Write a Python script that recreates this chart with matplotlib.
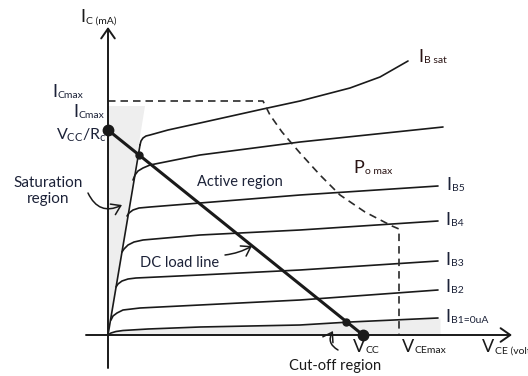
import matplotlib.pyplot as plt
from matplotlib.patches import Polygon

plt.rcParams['font.family'] = ['Lato', 'DejaVu Sans']

# collector curves (V_CE on x, I_C on y, arbitrary units)
ib_sat_v = [32, 33, 35, 38, 42, 60, 92, 155, 192, 242, 272, 300]
ib_sat_i = [190, 194, 197, 199, 200, 205, 212, 226, 234, 247, 258, 274]
ib6_v = [25, 27, 30, 35, 42, 92, 192, 335]
ib6_i = [155, 160, 164, 167, 170, 180, 193, 208]
ib5_v = [19, 21, 25, 31, 42, 92, 192, 330]
ib5_i = [119, 122, 125, 127, 128, 132, 140, 149]
ib4_v = [14, 16, 20, 26, 35, 92, 192, 330]
ib4_i = [83, 86, 90, 93, 95, 100, 105, 114]
ib3_v = [8, 10, 14, 20, 28, 92, 192, 330]
ib3_i = [48, 51, 54, 56, 57, 60, 65, 74]
ib2_v = [3, 5, 9, 15, 32, 92, 192, 330]
ib2_i = [15, 19, 22, 25, 27, 30, 35, 45]
ib1_v = [0, 3, 8, 15, 40, 92, 192, 242, 330]
ib1_i = [0, 2, 3.5, 4.5, 6, 8, 10, 13, 17]
curves = [(ib_sat_v, ib_sat_i), (ib6_v, ib6_i), (ib5_v, ib5_i), (ib4_v, ib4_i),
          (ib3_v, ib3_i), (ib2_v, ib2_i), (ib1_v, ib1_i)]

sat_v = [0, 32]
sat_i = [0, 190]
sat_zone_v = [0, 37, 0]
sat_zone_i = [0, 229, 229]
cut_zone_v = [0, 3, 8, 15, 40, 92, 192, 242, 332]
cut_zone_i = [0, 2, 3.5, 4.5, 6, 8, 10, 13, 17]

# DC load line and operating points
vcc = 255
vcc_rc = 205
q_v = [31, 238]
q_i = [180, 13]

# max power / max limits (dashed)
pmax_v = [0, 155, 162, 174, 192, 212, 232, 257, 284, 291, 291]
pmax_i = [234, 234, 220, 203, 182, 160, 140, 123, 109, 106, 0]

ink = '#1a1a1a'
lab = '#1c2238'

fig = plt.figure(figsize=(5.28, 3.76), dpi=100)
ax = fig.add_axes([0, 0, 1, 1])
ax.set_xlim(-108, 420)
ax.set_ylim(-41, 335)
ax.axis('off')

ax.add_patch(Polygon(list(zip(sat_zone_v, sat_zone_i)), closed=True,
                     facecolor='#eeeeee', edgecolor='none', zorder=0))
ax.fill_between(cut_zone_v, 0, cut_zone_i, color='#eeeeee', lw=0, zorder=0)

# axes with open arrow heads
arrow = dict(arrowstyle='->,head_length=0.5,head_width=0.35', lw=1.4,
             color=ink, mutation_scale=14, shrinkA=0, shrinkB=0)
ax.annotate('', xy=(0, 308), xytext=(0, -33), arrowprops=arrow)
ax.annotate('', xy=(404, 0), xytext=(-22, 0), arrowprops=arrow)

for v, i in curves:
    ax.plot(v, i, color=ink, lw=1.2, solid_capstyle='round')
ax.plot(sat_v, sat_i, color=ink, lw=1.2)

ax.plot(pmax_v, pmax_i, color='#2a2a2a', lw=1.2, dashes=(4.5, 3))

ax.plot([0, vcc], [vcc_rc, 0], color=ink, lw=2.2)
ax.plot([0, vcc], [vcc_rc, 0], 'o', color=ink, ms=7.5)
ax.plot(q_v, q_i, 'o', color=ink, ms=5)


def label(x, y, main, sub, size=13, sub_size=7.5, color=lab):
    t = ax.text(x, y, main, fontsize=size, color=color, ha='left', va='baseline')
    if sub:
        ax.annotate(sub, xy=(1, 0), xycoords=t, xytext=(0.6, 1.2),
                    textcoords='offset points', fontsize=sub_size,
                    color=color, ha='left', va='baseline')
    return t


label(-28, 313, 'I', 'C (mA)', color=ink)
label(-56, 238, 'I', 'Cmax')
label(-35, 218, 'I', 'Cmax')
ax.text(-52, 195, r'$\mathregular{V_{CC}/R_c}$', fontsize=11.5, color=lab,
        ha='left', va='baseline')
label(310, 273, 'I', 'B sat', color='#2a1414')
label(245, 162, 'P', 'o max', color='#2a1414')
label(338, 145, 'I', 'B5')
label(337, 110, 'I', 'B4')
label(337, 70, 'I', 'B3')
label(337, 43, 'I', 'B2')
label(337, 13, 'I', 'B1=0uA')
label(245, -17, 'V', 'CC', color=ink)
label(294, -17, 'V', 'CEmax', color=ink)
label(374, -17, 'V', 'CE (volts)', color=ink)

ax.text(-60, 144, 'Saturation\nregion', fontsize=11, color=lab,
        ha='center', va='center', linespacing=1.25)
ax.text(89, 153, 'Active region', fontsize=10.5, color=lab, va='center')
ax.text(32, 72, 'DC load line', fontsize=10.5, color=lab, va='center')
ax.text(273, -31, 'Cut-off region', fontsize=10.5, color=ink, ha='right',
        va='center')

small = dict(arrowstyle='->,head_length=0.45,head_width=0.3', lw=1.1,
             color=ink, mutation_scale=14, shrinkA=0, shrinkB=0)
ax.annotate('', xy=(14, 130), xytext=(-20, 142),
            arrowprops=dict(small, connectionstyle='arc3,rad=0.5'))
ax.annotate('', xy=(144, 89), xytext=(117, 80),
            arrowprops=dict(small, connectionstyle='arc3,rad=0.1'))
ax.annotate('', xy=(225, 4), xytext=(230, -15),
            arrowprops=dict(small, connectionstyle='arc3,rad=-0.5'))

fig.savefig('out.png', dpi=100)
